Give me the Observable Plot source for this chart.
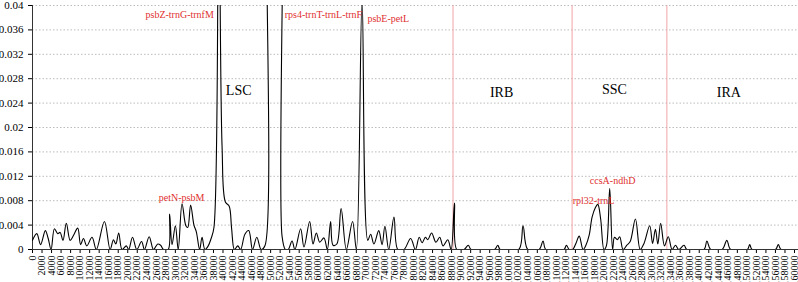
<!DOCTYPE html>
<html>
<head>
<meta charset="utf-8">
<script src="https://cdn.jsdelivr.net/npm/d3@7"></script>
<script src="https://cdn.jsdelivr.net/npm/@observablehq/plot@0.6"></script>
<style>
  html, body { margin: 0; padding: 0; background: #fff; }
</style>
</head>
<body>
<div id="chart"></div>
<script>
// Sliding-window positions (bp) and nucleotide diversity (Pi)
const positions = [
  0, 900, 1700, 2700, 3300, 3900, 4600, 5300, 5800, 6400, 7100, 7900, 8600, 9500, 10100, 10700, 11400, 12500, 13400,
  15100, 16300, 17000, 17500, 18100, 18800, 19700, 20200, 21000, 21900, 22900, 23500, 24500, 25400, 26300, 26900, 27500,
  28500, 28800, 29300, 30000, 30600, 31400, 32200, 32600, 33200, 33900, 34400, 35100, 35600, 36200, 36900, 37500, 38100,
  39100, 39800, 40500, 41300, 41800, 42400, 43100, 43700, 44600, 45400, 46200, 47100, 48000, 48800,
  50100, 51200, 52400, 53100, 53700, 54500, 55100, 56300, 57000, 58200, 58900, 59600, 60300, 61200, 61900, 62600, 63100, 63900,
  64800, 65900, 67200, 68000, 69200, 70400, 71000, 71700, 72700, 73400, 74000, 74800, 75900, 76700, 78000, 79400, 80400,
  81200, 81800, 82500, 83000, 83800, 84700, 85500, 86200, 87200, 87900, 88600, 89100, 90600, 91500, 92100,
  97000, 97700, 98200, 102100, 103000, 104000, 106400, 107200, 107800, 111600, 112100, 112700, 113400,
  114100, 114800, 115600, 116200, 116900, 117500, 118200, 118700, 119300, 120000, 120500, 121200, 121800, 122200, 122800,
  123300, 124000, 124800, 125500, 126600, 127600, 128400, 129600, 130200, 130800, 131300, 131900, 132700, 133500, 134300,
  135000, 135700, 136800, 137400, 141000, 141600, 142400, 144800, 145800, 146600, 150100, 150600, 151100,
  156000, 156600, 157200, 160600
];
const piValues = [
  0.0015, 0.0026, 0.0008, 0.0031, 0.0018, 0, 0.0034, 0.0026, 0.0028, 0.0015, 0.0043, 0.0015, 0.0023, 0.0035, 0.0008, 0.0018, 0.0006, 0.0020, 0,
  0.0046, 0, 0.0016, 0.0009, 0.0027, 0, 0.0006, 0, 0.0020, 0, 0.0013, 0, 0.0021, 0, 0.0009, 0.0007, 0,
  0, 0.0058, 0.0008, 0.0039, 0, 0.0075, 0.0039, 0.0036, 0.0073, 0.0040, 0.0029, 0, 0.0020, 0, 0.0006, 0.0018, 0.0036,
  0.060, 0.017, 0.0078, 0.0071, 0.0035, 0, 0.0006, 0, 0.0025, 0.0031, 0, 0.0020, 0, 0.0006,
  0.100, 0.100, 0.0022, 0, 0, 0.0014, 0, 0.0034, 0.0004, 0.0046, 0.0009, 0.0027, 0.0012, 0.0019, 0, 0.0046, 0.0007, 0.0009,
  0.0067, 0, 0.0046, 0, 0.041, 0.0015, 0.0025, 0.0009, 0.0031, 0.0008, 0.0038, 0, 0.0053, 0, 0, 0.0018, 0,
  0.0020, 0.0011, 0.0020, 0.0016, 0.0027, 0.0012, 0.0020, 0.0006, 0.0016, 0, 0.0076, 0, 0, 0.0007, 0,
  0, 0.0007, 0, 0, 0.0039, 0, 0, 0.0014, 0, 0, 0.0007, 0, 0,
  0.0010, 0.0022, 0, 0.0007, 0.0024, 0.0053, 0.0069, 0.0074, 0.0050, 0, 0.0006, 0.0100, 0, 0.0020, 0.0016,
  0.0021, 0, 0.0007, 0.0013, 0.0050, 0, 0.0010, 0.0039, 0.0010, 0.0033, 0.0009, 0.0043, 0.0006, 0.0021, 0,
  0.0007, 0, 0.0007, 0, 0, 0.0014, 0, 0, 0.0015, 0, 0, 0.0008, 0,
  0, 0.0008, 0, 0
];
const yTicks = [0, 0.004, 0.008, 0.012, 0.016, 0.02, 0.024, 0.028, 0.032, 0.036, 0.04];
const xTicks = d3.range(0, 160001, 2000);
const boundaries = [88300, 113300, 133200];
const regionNames = ["LSC", "IRB", "SSC", "IRA"];
const regionX = [43300, 98500, 122200, 146200];
const regionY = [0.0260, 0.0257, 0.0262, 0.0257];
const geneNames = ["psbZ-trnG-trnfM", "rps4-trnT-trnL-trnF", "psbE-petL", "petN-psbM", "rpl32-trnL", "ccsA-ndhD"];
const geneX = [30900, 61100, 74700, 31300, 117800, 121800];
const geneY = [0.0385, 0.0385, 0.0379, 0.0084, 0.0080, 0.0112];

const data = positions.map((x, i) => ({x, pi: piValues[i]}));
const regions = regionNames.map((t, i) => ({t, x: regionX[i], y: regionY[i]}));
const genes = geneNames.map((t, i) => ({t, x: geneX[i], y: geneY[i]}));

const chart = Plot.plot({
  width: 798,
  height: 282,
  marginLeft: 32,
  marginRight: 0,
  marginTop: 5,
  marginBottom: 33,
  style: {fontFamily: "'Liberation Serif', 'Times New Roman', serif", fontSize: "10px", background: "#fff", color: "#000"},
  x: {domain: [0, 160840]},
  y: {domain: [0, 0.04]},
  marks: [
    Plot.gridY(yTicks.slice(1), {stroke: "#bcbcbc", strokeOpacity: 1, strokeDasharray: "1.5,2"}),
    Plot.ruleX(boundaries, {stroke: "#f0a4a8", strokeWidth: 1}),
    Plot.axisY({ticks: yTicks, tickFormat: d => String(d), tickSize: 4, tickPadding: 5, fontSize: 11, label: null}),
    Plot.axisX({ticks: xTicks, tickFormat: d => String(d), tickRotate: -90, tickSize: 4, tickPadding: 2, fontSize: 10, label: null}),
    Plot.ruleY([0], {stroke: "#333"}),
    Plot.ruleX([0], {stroke: "#333"}),
    Plot.line(data, {x: "x", y: "pi", curve: "catmull-rom", clip: true, stroke: "#000", strokeWidth: 1.1}),
    Plot.text(regions, {x: "x", y: "y", text: "t", fontSize: 14, fill: "#000"}),
    Plot.text(genes, {x: "x", y: "y", text: "t", fontSize: 10, fill: "#e0302f"})
  ]
});
document.getElementById("chart").appendChild(chart);
</script>
</body>
</html>
